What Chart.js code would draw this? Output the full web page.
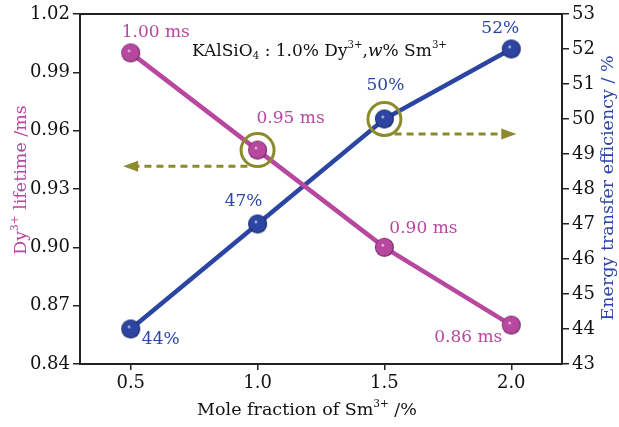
<!DOCTYPE html>
<html>
<head>
<meta charset="utf-8">
<script src="https://cdn.jsdelivr.net/npm/chart.js@4.4.0/dist/chart.umd.min.js"></script>
<style>
  html, body { margin: 0; padding: 0; background: #fff; }
  #wrap { width: 619px; height: 427px; }
</style>
</head>
<body>
<div id="wrap"><canvas id="chart" width="619" height="427"></canvas></div>
<script>
// DATA
const moleFraction = [0.5, 1.0, 1.5, 2.0];
const lifetime = [1.00, 0.95, 0.90, 0.86];
const efficiency = [44, 47, 50, 52];
const lifetimeLabels = ["1.00 ms", "0.95 ms", "0.90 ms", "0.86 ms"];
const efficiencyLabels = ["44%", "47%", "50%", "52%"];
const xTicks = [0.5, 1.0, 1.5, 2.0];
const leftTicks = [0.84, 0.87, 0.90, 0.93, 0.96, 0.99, 1.02];
const rightTicks = [43, 44, 45, 46, 47, 48, 49, 50, 51, 52, 53];
// arrows (data coords): from the circled point towards its axis
const leftArrow = { x: [0.96, 0.47], y: 0.9417 };
const rightArrow = { x: [1.54, 2.02], y: 49.57 };

const MAGENTA = "#b8479f";
const BLUE = "#2c45a3";
const OLIVE = "#8b8a2c";
const FONT = "'DejaVu Serif', serif";

// sphere-looking marker
function sphere(color, r) {
  const c = document.createElement("canvas");
  c.width = c.height = r * 2 + 2;
  const g = c.getContext("2d");
  const cx = r + 1, cy = r + 1;
  const grad = g.createRadialGradient(cx - r * 0.2, cy - r * 0.25, 0, cx, cy, r);
  grad.addColorStop(0, "#ffffff");
  grad.addColorStop(0.2, color);
  grad.addColorStop(0.85, color);
  grad.addColorStop(1, "rgba(0,0,0,0.3)");
  g.beginPath();
  g.arc(cx, cy, r, 0, Math.PI * 2);
  g.fillStyle = color;
  g.fill();
  g.fillStyle = grad;
  g.fill();
  return c;
}

// draw text runs with sub/superscripts
function drawRuns(ctx, runs, x, y, size, color, align) {
  ctx.save();
  ctx.fillStyle = color;
  ctx.textBaseline = "alphabetic";
  ctx.textAlign = "left";
  let total = 0;
  runs.forEach(r => {
    const s = r.sup || r.sub ? size * 0.6 : size;
    ctx.font = (r.italic ? "italic " : "") + s + "px " + FONT;
    total += ctx.measureText(r.t).width;
  });
  let cx = align === "center" ? x - total / 2 : x;
  runs.forEach(r => {
    const s = r.sup || r.sub ? size * 0.6 : size;
    ctx.font = (r.italic ? "italic " : "") + s + "px " + FONT;
    let dy = r.sup ? -size * 0.45 : r.sub ? size * 0.2 : 0;
    ctx.fillText(r.t, cx, y + dy);
    cx += ctx.measureText(r.t).width;
  });
  ctx.restore();
}

const extras = {
  id: "extras",
  afterDraw(chart) {
    const ctx = chart.ctx;
    const a = chart.chartArea;
    const xs = chart.scales.x, yl = chart.scales.y, yr = chart.scales.y1;

    // top frame line
    ctx.save();
    ctx.strokeStyle = "#222";
    ctx.lineWidth = 2;
    ctx.beginPath();
    ctx.moveTo(a.left, a.top);
    ctx.lineTo(a.right, a.top);
    ctx.stroke();
    ctx.restore();

    // olive circles around 0.95 ms and 50%
    const p1 = chart.getDatasetMeta(0).data[1];
    const p2 = chart.getDatasetMeta(1).data[2];
    ctx.save();
    ctx.strokeStyle = OLIVE;
    ctx.lineWidth = 3;
    [p1, p2].forEach(p => {
      ctx.beginPath();
      ctx.arc(p.x, p.y, 16.5, 0, Math.PI * 2);
      ctx.stroke();
    });

    // dashed arrows
    function arrow(x0, x1, y) {
      ctx.setLineDash([7, 5]);
      ctx.lineWidth = 3;
      ctx.beginPath();
      const dir = Math.sign(x1 - x0);
      ctx.moveTo(x0, y);
      ctx.lineTo(x1 - dir * 12, y);
      ctx.stroke();
      ctx.setLineDash([]);
      ctx.fillStyle = OLIVE;
      ctx.beginPath();
      ctx.moveTo(x1, y);
      ctx.lineTo(x1 - dir * 15, y - 5.5);
      ctx.lineTo(x1 - dir * 15, y + 5.5);
      ctx.closePath();
      ctx.fill();
    }
    arrow(xs.getPixelForValue(leftArrow.x[0]), xs.getPixelForValue(leftArrow.x[1]), yl.getPixelForValue(leftArrow.y));
    arrow(xs.getPixelForValue(rightArrow.x[0]), xs.getPixelForValue(rightArrow.x[1]), yr.getPixelForValue(rightArrow.y));
    ctx.restore();

    // value labels
    const lifeOff = [[25, -20], [33, -32], [39, -19], [-43, 12]];
    const effOff = [[30, 11], [-14, -22], [1, -33], [-11, -20]];
    ctx.save();
    ctx.font = "17px " + FONT;
    ctx.textAlign = "center";
    ctx.textBaseline = "middle";
    chart.getDatasetMeta(0).data.forEach((p, i) => {
      ctx.fillStyle = MAGENTA;
      ctx.fillText(lifetimeLabels[i], p.x + lifeOff[i][0], p.y + lifeOff[i][1]);
    });
    chart.getDatasetMeta(1).data.forEach((p, i) => {
      ctx.fillStyle = BLUE;
      ctx.fillText(efficiencyLabels[i], p.x + effOff[i][0], p.y + effOff[i][1]);
    });
    ctx.restore();

    // inner title
    drawRuns(ctx, [
      { t: "KAlSiO" }, { t: "4", sub: true }, { t: " : 1.0% Dy" }, { t: "3+", sup: true },
      { t: "," }, { t: "w", italic: true }, { t: "% Sm" }, { t: "3+", sup: true }
    ], 192, 56, 17, "#111", "left");

    // x title
    drawRuns(ctx, [{ t: "Mole fraction of Sm" }, { t: "3+", sup: true }, { t: " /%" }],
      307, 415, 17.5, "#111", "center");

    // left title
    ctx.save();
    ctx.translate(20, 180);
    ctx.rotate(-Math.PI / 2);
    drawRuns(ctx, [{ t: "Dy" }, { t: "3+", sup: true }, { t: " lifetime /ms" }], 0, 6, 17.5, MAGENTA, "center");
    ctx.restore();

    // right title
    ctx.save();
    ctx.translate(607, 188);
    ctx.rotate(-Math.PI / 2);
    drawRuns(ctx, [{ t: "Energy transfer efficiency / %" }], 0, 6, 17.5, BLUE, "center");
    ctx.restore();
  }
};

new Chart(document.getElementById("chart"), {
  type: "line",
  data: {
    datasets: [{
      label: "lifetime",
      data: moleFraction.map((x, i) => ({ x: x, y: lifetime[i] })),
      yAxisID: "y",
      borderColor: MAGENTA,
      borderWidth: 4.5,
      pointStyle: sphere(MAGENTA, 9.5),
      pointRadius: 9.5
    }, {
      label: "efficiency",
      data: moleFraction.map((x, i) => ({ x: x, y: efficiency[i] })),
      yAxisID: "y1",
      borderColor: BLUE,
      borderWidth: 4.5,
      pointStyle: sphere(BLUE, 9.5),
      pointRadius: 9.5
    }]
  },
  options: {
    responsive: false,
    animation: false,
    layout: { padding: { top: 13, left: 0, right: 0, bottom: 0 } },
    plugins: { legend: { display: false }, tooltip: { enabled: false } },
    scales: {
      x: {
        type: "linear",
        min: 0.3,
        max: 2.2,
        afterBuildTicks: s => { s.ticks = xTicks.map(v => ({ value: v })); },
        afterFit: s => { s.height = 63; },
        border: { color: "#222", width: 2 },
        grid: { drawOnChartArea: false, color: "#222", tickLength: 6, lineWidth: 1.5 },
        ticks: { color: "#111", font: { family: FONT, size: 18 }, padding: 3, callback: v => v.toFixed(1) }
      },
      y: {
        position: "left",
        min: 0.84,
        max: 1.02,
        afterBuildTicks: s => { s.ticks = leftTicks.map(v => ({ value: v })); },
        afterFit: s => { s.width = 80; },
        border: { color: "#222", width: 2 },
        grid: { drawOnChartArea: false, color: "#222", tickLength: 7, lineWidth: 1.5 },
        ticks: { color: "#111", font: { family: FONT, size: 18 }, padding: 3, callback: v => v.toFixed(2) }
      },
      y1: {
        position: "right",
        min: 43,
        max: 53,
        afterBuildTicks: s => { s.ticks = rightTicks.map(v => ({ value: v })); },
        afterFit: s => { s.width = 57; },
        border: { color: "#222", width: 2 },
        grid: { drawOnChartArea: false, color: "#222", tickLength: 7, lineWidth: 1.5 },
        ticks: { color: "#111", font: { family: FONT, size: 18 }, padding: 3 }
      }
    }
  },
  plugins: [extras]
});
</script>
</body>
</html>
